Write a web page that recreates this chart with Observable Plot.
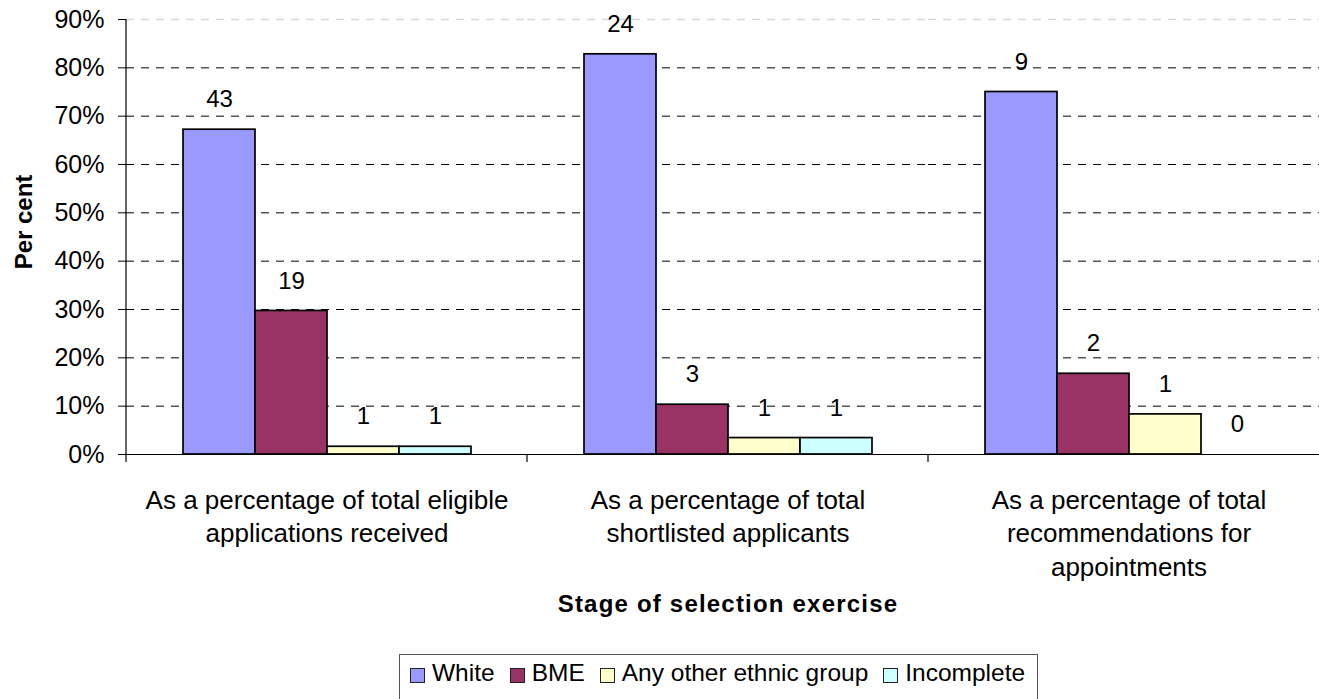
<!DOCTYPE html>
<html>
<head>
<meta charset="utf-8">
<script src="https://cdn.jsdelivr.net/npm/d3@7"></script>
<script src="https://cdn.jsdelivr.net/npm/@observablehq/plot@0.6"></script>
<style>
  html, body { margin: 0; padding: 0; background: #fff; overflow: hidden; }
  #wrap { position: relative; width: 1319px; height: 699px; overflow: hidden; font-family: "Liberation Sans", Arial, sans-serif; color: #000; }
  #chart { position: absolute; left: 0; top: 0; width: 1340px; }
  #chart svg { max-width: none !important; }
  .ytitle { position: absolute; left: 24px; top: 222px; transform: translate(-50%, -50%) rotate(-90deg); font-weight: bold; font-size: 24px; white-space: nowrap; }
  .xtitle { position: absolute; left: 0; width: 1456px; top: 590px; text-align: center; font-weight: bold; font-size: 24px; letter-spacing: 1.2px; white-space: nowrap; }
  .legend { position: absolute; left: 399px; top: 654px; border: 1px solid #555; border-bottom: none; padding: 4px 12px 12px 10px; display: flex; align-items: center; gap: 15px; font-size: 24.5px; white-space: nowrap; }
  .legend .item { display: flex; align-items: center; gap: 7px; }
  .legend .sw { width: 13px; height: 13px; border: 1px solid #222; display: inline-block; margin-top: 4px; }
</style>
</head>
<body>
<div id="wrap">
  <div id="chart"></div>
  <div class="ytitle" id="ytitle"></div>
  <div class="xtitle" id="xtitle"></div>
  <div class="legend" id="legend"></div>
</div>
<script>
// ---- data ----
const stages = ["eligible", "shortlisted", "recommended"];
const stageLabels = [
  "As a percentage of total eligible\napplications received",
  "As a percentage of total\nshortlisted applicants",
  "As a percentage of total\nrecommendations for\nappointments"
];
const groups = ["White", "BME", "Any other ethnic group", "Incomplete"];
const groupColors = ["#9999FF", "#993366", "#FFFFCC", "#CCFFFF"];

// percentage (bar height) per stage
const pctWhite = [67.2, 82.8, 75.0];
const pctBME = [29.7, 10.3, 16.7];
const pctOther = [1.6, 3.4, 8.3];
const pctIncomplete = [1.6, 3.4, 0];

// counts shown as bar labels
const countWhite = [43, 24, 9];
const countBME = [19, 3, 2];
const countOther = [1, 1, 1];
const countIncomplete = [1, 1, 0];

const yTicks = [0, 10, 20, 30, 40, 50, 60, 70, 80, 90];
const yTitle = "Per cent";
const xTitle = "Stage of selection exercise";

// ---- table ----
const pctSeries = [pctWhite, pctBME, pctOther, pctIncomplete];
const countSeries = [countWhite, countBME, countOther, countIncomplete];
const data = [];
stages.forEach((s, si) => {
  groups.forEach((g, gi) => {
    data.push({stage: s, group: g, pct: pctSeries[gi][si], count: countSeries[gi][si]});
  });
});
const stageTable = stages.map((s, i) => ({stage: s, label: stageLabels[i]}));

const chart = Plot.plot({
  width: 1329,
  height: 580,
  marginLeft: 126,
  marginRight: 0,
  marginTop: 19,
  marginBottom: 126,
  style: {fontFamily: "'Liberation Sans', Arial, sans-serif", fontSize: "25px", color: "#000", background: "transparent", overflow: "visible", maxWidth: "none"},
  fx: {domain: stages, padding: 0, axis: null},
  x: {domain: groups, paddingInner: 0, paddingOuter: 0.75, axis: null},
  y: {domain: [0, 90], ticks: yTicks, tickFormat: d => d + "%", tickSize: 8, tickPadding: 14, label: null},
  color: {domain: groups, range: groupColors},
  marks: [
    Plot.ruleY(yTicks.filter(d => d > 0 && d < 90), {stroke: "#000", strokeDasharray: "8,7", strokeWidth: 1}),
    Plot.ruleY([90], {stroke: "#d8d8d8", strokeDasharray: "8,7", strokeWidth: 1.5}),
    Plot.barY(data, {fx: "stage", x: "group", y: "pct", fill: "group", stroke: "#000", strokeWidth: 1.7}),
    Plot.ruleY([0], {stroke: "#000", strokeWidth: 1.2}),
    Plot.text(data, {fx: "stage", x: "group", y: "pct", text: d => String(d.count), dy: -30, fontSize: 24}),
    Plot.text(stageTable, {fx: "stage", text: "label", frameAnchor: "bottom", lineAnchor: "top", dy: 30, lineHeight: 1.3, fontSize: 26})
  ]
});
chart.style.maxWidth = "none";
document.getElementById("chart").appendChild(chart);

// group boundary ticks and y axis line, positioned from the plot's own scales
try {
  const fx = chart.scale("fx");
  const y = chart.scale("y");
  const y0 = y.apply(0), yTop = y.apply(90);
  const svg = d3.select(chart);
  const g = svg.append("g").attr("stroke", "#000").attr("stroke-width", 1.2);
  const edges = stages.map(s => fx.apply(s));
  edges.push(fx.apply(stages[stages.length - 1]) + fx.bandwidth);
  edges.forEach(x => {
    g.append("line").attr("x1", x).attr("x2", x).attr("y1", y0).attr("y2", y0 + 8);
  });
  g.append("line").attr("x1", edges[0]).attr("x2", edges[0]).attr("y1", yTop).attr("y2", y0);
} catch (e) { console.error(e); }

document.getElementById("ytitle").textContent = yTitle;
document.getElementById("xtitle").textContent = xTitle;
const leg = document.getElementById("legend");
groups.forEach((g, i) => {
  const it = document.createElement("div");
  it.className = "item";
  const sw = document.createElement("span");
  sw.className = "sw";
  sw.style.background = groupColors[i];
  const tx = document.createElement("span");
  tx.textContent = g;
  it.appendChild(sw); it.appendChild(tx);
  leg.appendChild(it);
});
</script>
</body>
</html>
